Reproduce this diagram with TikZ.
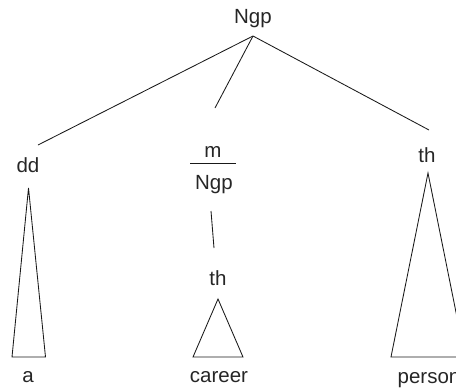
\documentclass[tikz,border=0pt]{standalone}
\usepackage{fontspec}
\setmainfont{Liberation Sans}
\begin{document}
\begin{tikzpicture}[x=1pt,y=-1pt,
  lbl/.style={font=\fontsize{20.5}{24}\selectfont, anchor=base, inner sep=0pt, text=black!85},
  edge/.style={line width=0.85pt, draw=black!90, line join=miter}]
\useasboundingbox (0,0) rectangle (456,389);
\clip (0,0) rectangle (456,389);
% labels
\node[lbl] (root) at (253,23) {Ngp};
\node[lbl] (dd) at (28,172) {dd};
\node[lbl] (m) at (213,157) {m};
\node[lbl] (ngpb) at (214,189) {Ngp};
\node[lbl] (thm) at (218,285) {th};
\node[lbl] (thr) at (427,162) {th};
\node[lbl] (a) at (28,382) {a};
\node[lbl] (career) at (219,382) {career};
\node[lbl, anchor=base west] (person) at (397.5,383) {person};
% connector ends
\coordinate (rootfoot) at (253,36);
\coordinate (ddtop) at (38,145);
\coordinate (mtop) at (215,108);
\coordinate (thtop) at (429,130);
\coordinate (barL) at (190,163);
\coordinate (barR) at (236,163);
\coordinate (vA) at (211,211);
\coordinate (vB) at (214,248);
% triangle corners
\coordinate (ddapex) at (28.5,188);
\coordinate (ddL) at (12,357);
\coordinate (ddR) at (45.5,357);
\coordinate (capex) at (218,299);
\coordinate (cL) at (193,357);
\coordinate (cR) at (243,357);
\coordinate (papex) at (428,173);
\coordinate (pL) at (391,357);
\coordinate (pR) at (465,357);
% connectors
\draw[edge] (ddtop) -- (rootfoot) -- (thtop);
\draw[edge] (rootfoot) -- (mtop);
\draw[edge] (barL) -- (barR);
\draw[edge] (vA) -- (vB);
% triangles
\draw[edge] (ddapex) -- (ddL) -- (ddR) -- cycle;
\draw[edge] (capex) -- (cL) -- (cR) -- cycle;
\draw[edge] (papex) -- (pL) -- (pR) -- cycle;
\end{tikzpicture}
\end{document}
